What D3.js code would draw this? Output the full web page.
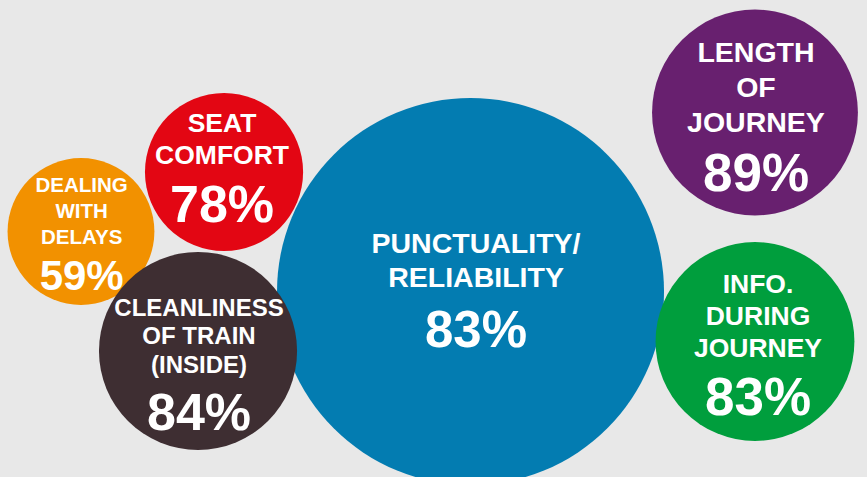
<!DOCTYPE html>
<html>
<head>
<meta charset="utf-8">
<script src="https://cdn.jsdelivr.net/npm/d3@7"></script>
<style>
  html, body { margin: 0; padding: 0; background: #e8e8e8; }
  svg { display: block; }
</style>
</head>
<body>
<script>
// ---- Data ----
const categories = [
  ["PUNCTUALITY/", "RELIABILITY"],
  ["LENGTH", "OF", "JOURNEY"],
  ["INFO.", "DURING", "JOURNEY"],
  ["DEALING", "WITH", "DELAYS"],
  ["SEAT", "COMFORT"],
  ["CLEANLINESS", "OF TRAIN", "(INSIDE)"]
];
const satisfaction = [83, 89, 83, 59, 78, 84];        // % satisfied (labels)
const importance   = [100, 28.3, 26.4, 14.4, 16.7, 26.2]; // relative bubble area

// ---- Layout / style (not data) ----
const W = 867, H = 477;
const colors = ["#037cb1", "#68206f", "#009e3d", "#f29100", "#e30613", "#3e2e32"];
const anchor = [ // fractional positions of bubble centres
  [0.5427, 0.6111], [0.8708, 0.2358], [0.8708, 0.7159],
  [0.0934, 0.4853], [0.2584, 0.3606], [0.2284, 0.7358]
];
const textStyle = [ // labelSize, lineHeight, firstDy, valueSize, valueDy, dx
  [28.5, 34.6, -38.8, 51, 55.2, 5.5],
  [28.5, 35.0, -50.2, 53, 78.2, 1],
  [26.5, 32.0, -48.8, 53, 73.5, 3],
  [20.5, 26.2, -39.8, 42, 58.5, 0.7],
  [26.5, 32.3, -40.3, 52, 49.7, -2],
  [24.0, 28.5, -35.3, 52, 79.0, 1]
];

const x = d3.scaleLinear().domain([0, 1]).range([0, W]);
const y = d3.scaleLinear().domain([0, 1]).range([0, H]);
const r = d3.scaleSqrt().domain([0, 100]).range([0, 193.5]);

const data = categories.map((c, i) => ({
  lines: c, value: satisfaction[i], imp: importance[i],
  color: colors[i], cx: x(anchor[i][0]), cy: y(anchor[i][1]), ts: textStyle[i]
}));

const svg = d3.select("body").append("svg")
  .attr("width", W).attr("height", H);

svg.append("rect").attr("width", W).attr("height", H).attr("fill", "#e8e8e8");

svg.append("g").selectAll("circle").data(data).join("circle")
  .attr("cx", d => d.cx).attr("cy", d => d.cy)
  .attr("r", d => r(d.imp)).attr("fill", d => d.color);

const labels = svg.append("g")
  .attr("font-family", "'Liberation Sans', Arial, Helvetica, sans-serif")
  .attr("font-weight", "bold").attr("fill", "#ffffff")
  .attr("text-anchor", "middle");

data.forEach(d => {
  const [ls, lh, fdy, vs, vdy, dx] = d.ts;
  const g = labels.append("g").attr("transform", `translate(${d.cx + dx},${d.cy})`);
  d.lines.forEach((t, j) => {
    g.append("text").attr("y", fdy + j * lh).attr("font-size", ls).text(t);
  });
  g.append("text").attr("y", vdy).attr("font-size", vs).text(d3.format("d")(d.value) + "%");
});
</script>
</body>
</html>
